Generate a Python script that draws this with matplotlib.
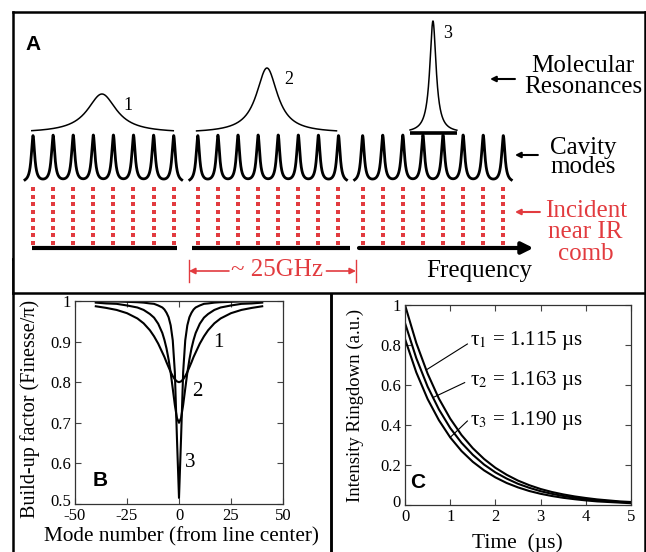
import numpy as np
import matplotlib.pyplot as plt
from matplotlib.ticker import FormatStrFormatter
from matplotlib.transforms import ScaledTranslation

plt.rcParams["font.family"] = ["Liberation Serif", "DejaVu Serif"]
plt.rcParams["mathtext.fontset"] = "stix"
plt.rcParams["axes.unicode_minus"] = False

W, H = 646, 552
RED = "#e23b3f"

# ---------- panel A: schematic (frequency in units of cavity mode spacing) ----------
group_start = [0.0, 8.2, 16.4]          # first cavity mode of each group
modes_per_group = 8
mode_height = 4.8
mode_width = 0.1

res_center = [3.43, 11.64, 19.9]        # molecular resonances
res_width = [0.88, 0.64, 0.19]
res_height = [3.9, 6.5, 11.2]
res_span = [(-0.06, 6.98), (8.14, 15.1), (18.76, 21.09)]
res_label = ["1", "2", "3"]

base_span = [(-0.05, 7.16), (7.91, 15.77)]
freq_arrow = (16.22, 24.9)

# ---------- panel B: build-up factor vs mode number ----------
mode_number = [-40, -35, -30, -25, -20, -17, -14, -12, -10, -8, -7, -6, -5, -4, -3, -2, -1, 0,
               1, 2, 3, 4, 5, 6, 7, 8, 10, 12, 14, 17, 20, 25, 30, 35, 40]
buildup_1 = [0.987, 0.983, 0.978, 0.970, 0.957, 0.945, 0.928, 0.913, 0.895, 0.873, 0.862, 0.849,
             0.837, 0.825, 0.815, 0.807, 0.802, 0.800, 0.802, 0.807, 0.815, 0.825, 0.837, 0.849,
             0.862, 0.873, 0.895, 0.913, 0.928, 0.945, 0.957, 0.970, 0.978, 0.983, 0.987]
buildup_2 = [0.996, 0.994, 0.993, 0.989, 0.984, 0.978, 0.968, 0.959, 0.944, 0.921, 0.904, 0.883,
             0.856, 0.823, 0.784, 0.744, 0.712, 0.700, 0.712, 0.744, 0.784, 0.823, 0.856, 0.883,
             0.904, 0.921, 0.944, 0.959, 0.968, 0.978, 0.984, 0.989, 0.993, 0.994, 0.996]
buildup_3 = [0.999, 0.999, 0.999, 0.998, 0.997, 0.996, 0.994, 0.993, 0.989, 0.984, 0.979, 0.971,
             0.960, 0.940, 0.903, 0.825, 0.664, 0.515, 0.664, 0.825, 0.903, 0.940, 0.960, 0.971,
             0.979, 0.984, 0.989, 0.993, 0.994, 0.996, 0.997, 0.998, 0.999, 0.999, 0.999]

# ---------- panel C: ringdown ----------
time_us = [0, 0.25, 0.5, 0.75, 1, 1.25, 1.5, 1.75, 2, 2.25, 2.5, 2.75, 3, 3.25, 3.5, 3.75,
           4, 4.25, 4.5, 4.75, 5]
ringdown_1 = [1.000, 0.810, 0.657, 0.532, 0.432, 0.350, 0.284, 0.230, 0.186, 0.151, 0.122,
              0.099, 0.080, 0.065, 0.053, 0.043, 0.035, 0.028, 0.023, 0.018, 0.015]
ringdown_2 = [0.910, 0.734, 0.592, 0.478, 0.385, 0.311, 0.251, 0.202, 0.163, 0.132, 0.106,
              0.086, 0.069, 0.056, 0.045, 0.036, 0.029, 0.024, 0.019, 0.015, 0.012]
ringdown_3 = [0.830, 0.663, 0.530, 0.424, 0.338, 0.270, 0.216, 0.173, 0.138, 0.110, 0.088,
              0.070, 0.056, 0.045, 0.036, 0.029, 0.023, 0.018, 0.015, 0.012, 0.009]
tau_labels = ["τ$_1$ = 1.115 µs", "τ$_2$ = 1.163 µs", "τ$_3$ = 1.190 µs"]


def lorentz(x, x0, w):
    return 1.0 / (1.0 + ((x - x0) / w) ** 2)


fig = plt.figure(figsize=(W / 100, H / 100), dpi=100)

# ---------- frames ----------
frame_lw = 1.8
for rect in [[13 / W, 0, 318 / W, 293 / H], [331 / W, 0, 314 / W, 293 / H]]:
    box = fig.add_axes(rect)
    box.set_xticks([])
    box.set_yticks([])
    box.patch.set_alpha(0)
    for s in box.spines.values():
        s.set_linewidth(frame_lw)
    box.spines["bottom"].set_visible(False)

# ---------- panel A ----------
axA = fig.add_axes([13 / W, (H - 293) / H, 632 / W, 281 / H])
axA.set_xlim(-0.995, 30.45)
axA.set_ylim(0, 28.1)
axA.set_xticks([])
axA.set_yticks([])
for s in axA.spines.values():
    s.set_linewidth(frame_lw)

for g in group_start:
    centers = g + np.arange(modes_per_group)
    x = np.linspace(g - 0.4, g + modes_per_group - 0.6, 3000)
    y = sum(lorentz(x, c, mode_width) for c in centers)
    axA.plot(x, 11.0 + mode_height * y / y.max(), color="k", lw=2.0)
    for c in centers:
        axA.plot([c] * 8, np.linspace(5.0, 10.4, 8), "s", color=RED, ms=2.8, mew=0)

for c, w, h, (x0, x1) in zip(res_center, res_width, res_height, res_span):
    x = np.linspace(x0, x1, 1500)
    axA.plot(x, 16.0 + h * lorentz(x, c, w), color="k", lw=1.1)
res3 = res_span[2]
axA.plot(res3, [16.05, 16.05], color="k", lw=2.6, solid_capstyle="butt")

axA.text(4.73, 18.8, res_label[0], fontsize=13, ha="center", va="center")
axA.text(12.74, 21.3, res_label[1], fontsize=13, ha="center", va="center")
axA.text(20.65, 26.0, res_label[2], fontsize=13, ha="center", va="center")

for x0, x1 in base_span:
    axA.plot([x0, x1], [4.5, 4.5], color="k", lw=3, solid_capstyle="butt")
axA.annotate("", xy=(freq_arrow[1], 4.5), xytext=(freq_arrow[0], 4.5),
             arrowprops=dict(arrowstyle="-|>", color="k", lw=3, mutation_scale=17,
                             shrinkA=0, shrinkB=0))
axA.text(22.19, 2.2, "Frequency", fontsize=18, ha="center", va="center")

# 25 GHz marker
axA.plot([7.76, 7.76], [1.1, 3.3], color=RED, lw=1)
axA.plot([16.07, 16.07], [1.1, 3.3], color=RED, lw=1)
axA.annotate("", xy=(7.76, 2.2), xytext=(9.75, 2.2),
             arrowprops=dict(arrowstyle="-|>", color=RED, lw=1.2, mutation_scale=9,
                             shrinkA=0, shrinkB=0))
axA.annotate("", xy=(16.07, 2.2), xytext=(14.6, 2.2),
             arrowprops=dict(arrowstyle="-|>", color=RED, lw=1.2, mutation_scale=9,
                             shrinkA=0, shrinkB=0))
axA.text(12.15, 2.3, "~ 25GHz", fontsize=18, color=RED, ha="center", va="center")

axA.text(-0.35, 24.8, "A", fontsize=15, fontweight="bold", family="Liberation Sans",
         ha="left", va="center")

axA.text(27.36, 21.65, "Molecular\nResonances", fontsize=18, ha="center", va="center",
         linespacing=0.9)
axA.text(27.36, 13.55, "Cavity\nmodes", fontsize=18, ha="center", va="center",
         linespacing=0.85)
axA.text(27.5, 6.05, "Incident\nnear IR\ncomb", fontsize=18, color=RED, ha="center",
         va="center", linespacing=0.95)
for (x0, x1, y), col in [((23.98, 22.74, 21.4), "k"), ((25.12, 23.98, 13.8), "k"),
                         ((25.22, 23.98, 8.1), RED)]:
    axA.annotate("", xy=(x1, y), xytext=(x0, y),
                 arrowprops=dict(arrowstyle="-|>", color=col, lw=1.5, mutation_scale=8,
                                 shrinkA=0, shrinkB=0))

# ---------- panel B ----------
axB = fig.add_axes([75 / W, (H - 504) / H, 208 / W, 203 / H])
for yv in [buildup_1, buildup_2, buildup_3]:
    axB.plot(mode_number, yv, color="k", lw=1.5)
axB.set_xlim(-50, 50)
axB.set_ylim(0.5, 1)
axB.set_xticks([-50, -25, 0, 25, 50])
axB.set_yticks([0.5, 0.6, 0.7, 0.8, 0.9, 1.0])
axB.yaxis.set_major_formatter(FormatStrFormatter("%g"))
axB.text(18.75, 0.899, "1", fontsize=15, ha="center", va="center")
axB.text(8.65, 0.776, "2", fontsize=15, ha="center", va="center")
axB.text(5.3, 0.601, "3", fontsize=15, ha="center", va="center")
axB.text(-38, 0.559, "B", fontsize=15, fontweight="bold", family="Liberation Sans",
         ha="center", va="center")
axB.set_xlabel("Mode number (from line center)", fontsize=15.3)
axB.set_ylabel("Build-up factor (Finesse/π)", fontsize=14.5)
axB.xaxis.set_label_coords(0.51, -0.163)
axB.yaxis.set_label_coords(-0.216, 0.47)

# ---------- panel C ----------
axC = fig.add_axes([405 / W, (H - 505) / H, 226 / W, 200 / H])
curves = [ringdown_1, ringdown_2, ringdown_3]
for yv in curves:
    axC.plot(time_us, yv, color="k", lw=1.5)
axC.set_xlim(0, 5)
axC.set_ylim(0, 1)
axC.set_xticks([0, 1, 2, 3, 4, 5])
axC.set_yticks([0, 0.2, 0.4, 0.6, 0.8, 1.0])
axC.yaxis.set_major_formatter(FormatStrFormatter("%g"))

label_pos = [(1.44, 0.825), (1.44, 0.62), (1.44, 0.425)]
line_start = [(1.38, 0.805), (1.32, 0.612), (1.38, 0.42)]
line_end_t = [0.47, 0.62, 1.0]
for lab, (tx, ty), (sx, sy), et, yv in zip(tau_labels, label_pos, line_start, line_end_t, curves):
    axC.text(tx, ty, lab, fontsize=15, ha="left", va="center")
    axC.plot([sx, et], [sy, np.interp(et, time_us, yv)], color="k", lw=0.8)
axC.text(0.29, 0.11, "C", fontsize=15, fontweight="bold", family="Liberation Sans",
         ha="center", va="center")
axC.set_xlabel("Time  (µs)", fontsize=15.5)
axC.set_ylabel("Intensity Ringdown (a.u.)", fontsize=13.5)
axC.xaxis.set_label_coords(0.496, -0.19)
axC.yaxis.set_label_coords(-0.221, 0.5)

for ax in [axB, axC]:
    ax.tick_params(direction="in", top=True, right=True, length=4, width=0.8,
                   labelsize=12, pad=3, color="#444444")
    for s in ax.spines.values():
        s.set_linewidth(0.9)
        s.set_color("#333333")
    ax.xaxis.label.set_va("center")
    ax.yaxis.label.set_va("center")
    # lowest y label sits a little up, as in the original
    lab0 = ax.get_yticklabels()[0]
    lab0.set_transform(lab0.get_transform() + ScaledTranslation(0, 4 / 100, fig.dpi_scale_trans))

fig.savefig("out.png", dpi=100)
